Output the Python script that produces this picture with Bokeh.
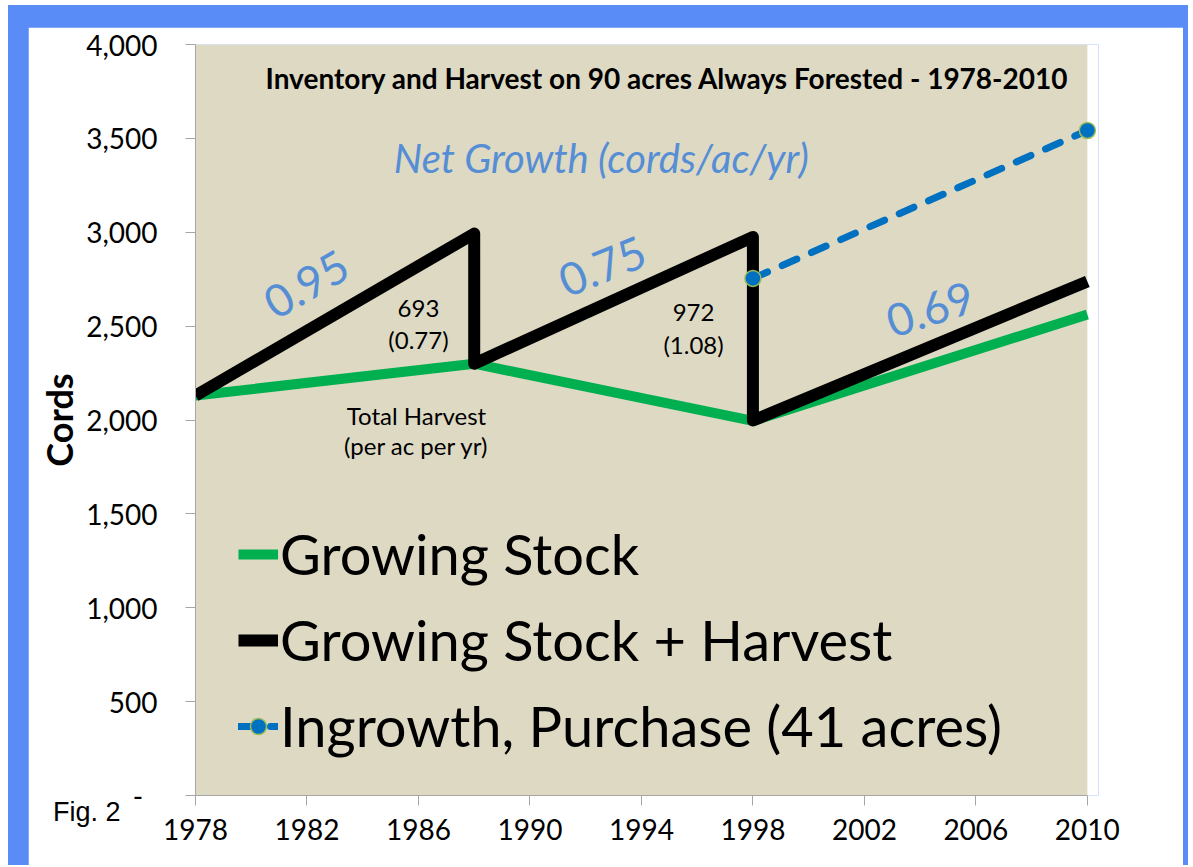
from bokeh.plotting import figure
from bokeh.models import (ColumnDataSource, Label, BoxAnnotation, Legend, LegendItem,
                          FixedTicker, NumeralTickFormatter, Div)
from bokeh.layouts import column
from bokeh.embed import file_html
from bokeh.resources import INLINE

# ---------------- data ----------------
years_total = [1978, 1988, 1988, 1998, 1998, 2010]
stock_plus_harvest = [2130, 2993, 2300, 2975, 1997, 2738]
years_stock = [1978, 1988, 1998, 2010]
growing_stock = [2130, 2300, 1995, 2562]
years_ingrowth = [1998, 2010]
ingrowth = [2754, 3542]

x_ticks = [1978, 1982, 1986, 1990, 1994, 1998, 2002, 2006, 2010]
y_ticks = [0, 500, 1000, 1500, 2000, 2500, 3000, 3500, 4000]

series_names = ["Growing Stock", "Growing Stock + Harvest", "Ingrowth, Purchase (41 acres)"]
title_text = "Inventory and Harvest on 90 acres Always Forested - 1978-2010"
net_growth_title = "Net Growth (cords/ac/yr)"
net_growth_values = ["0.95", "0.75", "0.69"]
harvest_totals = ["693", "972", "171"]
harvest_rates = ["(0.77)", "(1.08)", "(0.16)"]

FONT = "Lato"
TAN = "#DDD9C3"
BLUE_TXT = "#558ED5"
AXIS_GRAY = "#A6A6A6"

p = figure(width=1155, height=838, x_range=(1978, 2010.4), y_range=(0, 4000),
           output_backend="svg", toolbar_location=None,
           min_border_left=167, min_border_right=85, min_border_top=17, min_border_bottom=70)
p.background_fill_color = "white"
p.border_fill_color = "white"
p.outline_line_color = None
p.xgrid.grid_line_color = None
p.ygrid.grid_line_color = None

p.add_layout(BoxAnnotation(left=1978, right=2010, bottom=0, top=4000,
                           fill_color=TAN, fill_alpha=1, line_color=None, level="underlay"))

src_s = ColumnDataSource(dict(x=years_stock, y=growing_stock))
src_t = ColumnDataSource(dict(x=years_total, y=stock_plus_harvest))
src_i = ColumnDataSource(dict(x=years_ingrowth, y=ingrowth))

r_green = p.line("x", "y", source=src_s, line_color="#00B050", line_width=10,
                 line_join="round", line_cap="butt")
r_black = p.line("x", "y", source=src_t, line_color="black", line_width=12,
                 line_join="round", line_cap="butt")
r_blue = p.line("x", "y", source=src_i, line_color="#0070C0", line_width=7,
                line_dash="16 16", line_cap="round")
r_dots = p.scatter("x", "y", source=src_i, size=16, fill_color="#0070C0",
                   line_color="#9BBB59", line_width=1.5)

# axes
p.xaxis.ticker = FixedTicker(ticks=x_ticks)
p.yaxis.ticker = FixedTicker(ticks=y_ticks)
p.xaxis.bounds = (1978, 2010)
p.yaxis.formatter = NumeralTickFormatter(format="0,0")
p.yaxis.major_label_overrides = {0: "-\u00a0\u00a0"}
for ax in (p.xaxis, p.yaxis):
    ax.axis_line_color = AXIS_GRAY
    ax.major_tick_line_color = AXIS_GRAY
    ax.major_tick_in = 0
    ax.major_tick_out = 10
    ax.minor_tick_line_color = None
    ax.major_label_text_font = FONT
    ax.major_label_text_font_size = "28px"
    ax.major_label_text_color = "black"
p.yaxis.major_label_standoff = 28
p.xaxis.major_label_standoff = 13
p.yaxis.axis_label = "Cords"
p.yaxis.axis_label_text_font = FONT
p.yaxis.axis_label_text_font_style = "bold"
p.yaxis.axis_label_text_font_size = "36px"
p.yaxis.axis_label_text_color = "black"
p.yaxis.axis_label_standoff = 2

# legend
legend = Legend(items=[
    LegendItem(label=series_names[0], renderers=[r_green]),
    LegendItem(label=series_names[1], renderers=[r_black]),
    LegendItem(label=series_names[2], renderers=[r_blue, r_dots]),
], location=(43, 36))
legend.background_fill_alpha = 0
legend.border_line_color = None
legend.padding = 0
legend.margin = 0
legend.glyph_width = 40
legend.glyph_height = 60
legend.label_height = 60
legend.spacing = 19
legend.label_standoff = 2
legend.label_text_font = FONT
legend.label_text_font_size = "56px"
legend.label_text_color = "black"
p.add_layout(legend, "center")

def lab(x, y, text, size, color="black", style="normal", angle=0, align="center"):
    p.add_layout(Label(x=x, y=y, text=text, text_font=FONT, text_font_size=size,
                       text_color=color, text_font_style=style, angle=angle,
                       angle_units="deg", text_align=align, text_baseline="middle"))

lab(1994.93, 3819, title_text, "28px", style="bold")
lab(1992.56, 3393, net_growth_title, "40px", color=BLUE_TXT, style="italic")
lab(1981.98, 2722, net_growth_values[0], "45px", color=BLUE_TXT, angle=30)
lab(1992.6, 2818, net_growth_values[1], "45px", color=BLUE_TXT, angle=22)
lab(2004.37, 2589, net_growth_values[2], "45px", color=BLUE_TXT, angle=18)
lab(1986.0, 2594, harvest_totals[0], "24px")
lab(1986.0, 2429, harvest_rates[0], "24px")
lab(1995.87, 2575, harvest_totals[1], "24px")
lab(1995.87, 2402, harvest_rates[1], "24px")
lab(2011.47, 2716, harvest_totals[2], "24px")
lab(2011.47, 2540, harvest_rates[2], "24px")
lab(1985.93, 2024, "Total Harvest", "24px")
lab(1985.93, 1864, "(per ac per yr)", "24px")

fig_note = Div(text="Fig. 2",
               styles={"position": "absolute", "left": "40px", "top": "787px",
                       "font-family": "Liberation Sans", "font-size": "27px",
                       "color": "black", "line-height": "31px"})

layout = column(p, fig_note, styles={"background-color": "#5A8CF8",
                                     "position": "relative",
                                     "margin": "5px 0px 0px 8px",
                                     "padding": "22px 5px 0px 20px"})

open("out.html", "w").write(file_html(layout, INLINE))
